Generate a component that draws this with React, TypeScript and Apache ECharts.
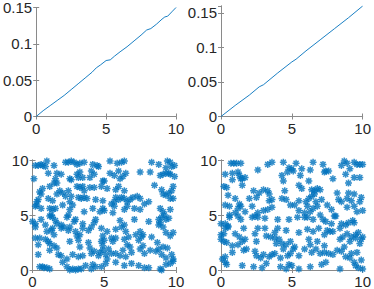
import React, { useEffect, useRef } from "react";
import * as echarts from "echarts";

// Top-left line: cumulative series
const lineAX = [0, 0.5, 1, 1.5, 2, 2.5, 3, 3.5, 4, 4.3, 4.6, 5.0, 5.3, 5.6, 6, 6.5, 7, 7.5, 7.9, 8.2, 8.6, 9.0, 9.2, 9.4, 9.7, 10];
const lineAY = [0, 0.008, 0.015, 0.022, 0.029, 0.037, 0.045, 0.053, 0.061, 0.067, 0.071, 0.077, 0.078, 0.083, 0.089, 0.096, 0.104, 0.112, 0.119, 0.121, 0.127, 0.134, 0.137, 0.138, 0.144, 0.15];

// Top-right line
const lineBX = [0, 1, 2, 2.7, 3.0, 4, 5, 5.3, 6, 7, 8, 9, 10];
const lineBY = [0, 0.016, 0.031, 0.043, 0.046, 0.063, 0.079, 0.083, 0.095, 0.111, 0.127, 0.143, 0.16];

// Bottom-left scatter points [x, y]
const scatterA: number[][] = [
  [0.2,9.5],[0.4,9.5],[0.7,9.5],[0.9,9.4],[1.0,9.9],[1.5,9.5],[2.3,9.8],[2.5,9.8],[2.7,9.9],[2.9,9.8],[3.1,9.6],[3.3,9.7],[3.6,9.8],[4.2,9.6],[4.5,9.5],[4.6,9.4],[5.4,9.9],[5.9,9.7],[6.2,9.8],[6.4,9.9],[8.3,9.8],[8.8,9.6],[9.4,9.9],[9.6,9.8],[9.7,9.4],[9.9,9.5],[9.3,9.3],[0.6,9.6],
  [0.1,8.3],[1.1,8.8],[1.7,8.8],[1.6,8.3],[2.0,8.7],[2.6,8.3],[2.7,8.2],[3.1,8.7],[3.2,8.4],[3.3,8.9],[3.5,8.4],[4.0,8.4],[4.1,9.0],[4.3,8.7],[4.9,8.1],[5.0,8.1],[5.4,8.8],[5.7,8.6],[6.0,9.0],[6.1,8.3],[6.3,8.5],[6.5,8.8],[7.5,8.9],[8.2,8.9],[8.9,8.6],[9.1,8.7],[9.3,8.8],[9.6,8.7],[9.9,8.5],[9.5,8.8],
  [0.5,7.1],[0.7,7.4],[1.2,7.6],[1.5,7.9],[1.7,7.9],[1.9,7.2],[2.1,7.0],[2.5,7.2],[3.1,7.6],[3.3,7.5],[3.5,7.6],[3.6,7.2],[4.0,7.5],[4.3,7.5],[4.8,7.6],[5.2,7.4],[5.8,7.3],[6.0,7.6],[6.4,7.2],[8.5,7.7],[9.0,7.3],[9.5,7.0],[9.7,7.2],[9.8,7.6],
  [0.3,6.2],[0.4,6.4],[0.6,6.9],[1.1,6.5],[1.4,6.3],[1.7,6.9],[2.3,6.7],[2.6,6.2],[2.7,6.7],[3.2,6.6],[3.4,6.5],[3.6,6.6],[3.8,6.5],[4.4,6.4],[4.9,6.3],[5.5,6.0],[5.7,6.2],[5.8,6.6],[6.0,6.4],[6.2,6.6],[6.4,6.5],[6.6,6.2],[6.8,6.4],[7.0,6.6],[7.3,6.7],[7.5,6.5],[7.8,6.0],[8.1,6.2],[9.3,6.8],[9.6,6.5],[9.8,6.5],[9.1,6.9],
  [0.2,5.8],[0.3,5.9],[0.6,5.6],[1.2,5.6],[1.4,5.5],[1.6,5.6],[2.1,5.9],[2.6,5.5],[2.8,5.9],[3.6,5.3],[4.2,5.6],[4.9,5.6],[4.7,5.3],[5.0,5.4],[5.6,5.2],[5.7,5.8],[6.4,5.5],[6.6,5.8],[7.1,5.6],[7.5,5.5],[8.9,5.6],[9.1,5.3],[9.6,5.5],
  [0.0,4.4],[0.2,4.2],[0.6,4.6],[0.9,4.1],[1.2,4.9],[1.3,5.0],[1.4,4.8],[1.6,4.5],[1.7,4.2],[2.0,4.1],[2.4,4.8],[2.5,5.0],[2.9,4.4],[3.0,4.6],[3.5,4.2],[4.3,4.3],[4.4,4.6],[6.1,4.5],[7.1,4.6],[8.1,4.4],[8.8,4.6],[8.9,4.3],[9.0,4.8],[9.2,5.0],[9.3,4.6],[9.5,4.7],[8.8,4.1],[9.1,3.9],
  [0.2,3.9],[1.0,3.5],[1.3,3.6],[1.4,3.8],[1.5,3.2],[2.0,3.8],[2.2,3.9],[2.5,3.6],[2.6,3.9],[3.0,3.5],[3.1,3.1],[3.3,3.2],[3.5,3.8],[3.9,3.6],[4.1,3.9],[4.8,3.8],[4.9,3.1],[5.2,3.5],[5.5,2.9],[5.8,3.7],[6.2,3.9],[6.4,4.1],[6.5,3.5],[6.7,3.0],[7.2,3.2],[7.5,3.5],[7.6,3.0],[7.7,3.2],[8.3,3.0],[9.3,3.4],[9.6,3.1],[9.8,3.4],
  [0.2,2.9],[0.4,2.3],[0.5,2.9],[0.9,2.8],[1.1,2.6],[1.2,2.4],[1.5,2.2],[1.7,2.0],[2.6,2.6],[3.2,2.7],[3.3,2.1],[3.9,2.5],[4.0,2.0],[4.8,2.6],[4.9,2.2],[5.0,2.7],[5.3,1.9],[5.6,2.6],[5.8,2.9],[6.4,2.8],[6.6,2.3],[6.8,2.1],[7.4,2.7],[7.7,2.2],[8.7,2.5],[9.1,2.1],[9.4,2.0],
  [0.4,1.4],[1.2,1.8],[1.8,1.4],[2.0,1.3],[2.4,1.0],[2.8,1.4],[3.2,1.2],[3.5,1.3],[4.1,1.5],[4.3,1.7],[4.6,1.3],[4.7,1.6],[4.9,1.8],[5.1,1.4],[5.2,1.0],[5.5,1.5],[5.8,1.5],[6.1,1.3],[6.3,1.8],[6.5,1.2],[6.9,1.6],[7.5,1.9],[7.8,1.5],[8.2,1.8],[8.6,1.7],[8.8,1.9],[9.0,1.4],[9.3,1.1],[9.7,1.4],[9.8,1.0],
  [0.5,0.3],[0.7,0.3],[0.8,0.2],[1.0,0.2],[1.2,0.1],[2.1,0.7],[2.4,0.3],[2.6,0.0],[2.8,0.1],[3.0,0.0],[3.2,0.1],[3.4,0.1],[3.7,0.4],[4.1,0.1],[4.2,0.5],[4.4,0.3],[4.8,0.3],[5.1,0.6],[5.8,0.7],[6.4,0.4],[6.9,0.6],[7.4,0.4],[7.8,0.2],[8.1,0.2],[8.9,0.1],[9.0,0.0],[9.3,0.5],[9.6,0.6],[9.8,0.8]
];

// Bottom-right scatter points [x, y]
const scatterB: number[][] = [
  [0.3,8.7],[0.7,9.7],[0.9,9.7],[1.1,9.7],[1.4,9.7],[0.8,8.8],[1.2,8.9],[1.4,8.3],[2.6,9.1],[3.3,9.6],[3.6,9.8],[4.4,9.8],[4.8,9.3],[5.0,9.2],[5.1,9.0],[5.3,9.7],[5.7,9.2],[6.3,9.1],[6.5,9.8],[7.2,9.6],[7.3,8.9],[7.4,9.0],[7.6,9.0],[8.5,9.5],[8.7,9.9],[8.9,9.7],[9.1,9.2],[9.4,9.8],[9.6,9.6],[9.8,9.6],[10.0,9.6],
  [0.8,8.2],[1.3,8.6],[1.5,8.3],[1.7,8.4],[4.3,8.6],[4.4,8.1],[4.7,8.9],[5.6,8.6],[6.2,8.1],[7.9,8.3],[8.8,8.7],[9.4,8.4],[9.8,8.4],[9.0,7.9],
  [0.2,7.6],[0.4,7.5],[1.5,7.7],[2.3,7.2],[2.7,7.0],[3.0,7.3],[3.3,7.2],[3.4,6.9],[4.5,7.2],[5.5,7.7],[5.7,7.4],[6.4,7.3],[6.6,7.2],[6.8,7.4],[7.0,7.3],[8.2,7.0],[9.0,7.0],[9.4,6.9],
  [0.5,6.8],[1.0,6.5],[1.3,6.0],[2.0,6.5],[2.5,6.6],[3.4,6.3],[3.6,6.4],[4.3,6.5],[4.6,6.4],[5.5,6.3],[6.0,6.2],[6.2,6.5],[6.4,6.7],[6.6,6.9],[6.7,6.2],[7.1,6.4],[8.3,6.4],[8.5,6.2],[8.9,6.5],[9.2,6.3],[9.8,6.2],[9.9,6.6],[10.0,5.4],
  [0.3,5.9],[0.6,5.8],[0.6,5.0],[1.0,5.2],[1.2,5.6],[1.4,5.8],[1.7,5.3],[2.2,5.8],[2.6,5.2],[3.0,5.4],[3.3,5.5],[3.6,5.7],[4.9,5.9],[5.2,5.9],[5.5,5.4],[5.9,5.2],[6.1,5.8],[6.3,5.3],[6.5,5.6],[6.8,5.8],[7.0,5.0],[7.5,5.9],[7.8,5.5],[8.1,4.9],[8.9,5.7],[9.4,5.8],[9.6,5.3],
  [0.0,4.2],[0.3,4.2],[0.5,4.0],[0.6,4.8],[1.2,4.9],[1.4,4.6],[2.2,4.8],[2.4,4.9],[2.6,4.8],[3.1,4.7],[4.0,4.6],[4.8,4.6],[5.4,4.8],[5.9,4.8],[6.1,4.8],[6.5,4.6],[7.2,4.6],[7.4,4.4],[7.8,4.2],[8.0,4.9],[8.5,4.2],[8.8,4.1],[9.3,4.5],[9.4,4.3],[9.0,4.3],
  [0.0,3.2],[0.2,3.3],[0.3,3.8],[0.5,3.9],[1.0,3.3],[1.3,3.0],[1.6,3.8],[2.4,3.3],[2.6,3.8],[3.1,3.8],[3.2,3.1],[3.5,3.0],[3.8,3.4],[4.0,3.8],[4.6,3.6],[5.5,3.4],[6.1,3.7],[6.5,3.5],[6.9,3.8],[7.3,3.2],[7.5,3.6],[7.7,3.5],[7.9,3.5],[8.4,3.8],[8.6,3.0],[8.9,3.3],[9.2,3.0],[9.5,3.2],[9.7,3.4],[10.0,3.0],
  [0.0,2.8],[0.2,2.6],[0.4,2.5],[0.8,2.2],[1.2,2.3],[1.5,2.6],[1.7,2.8],[2.5,2.6],[3.8,2.9],[3.9,2.4],[4.1,2.8],[4.3,2.4],[4.6,2.3],[4.9,2.6],[5.2,2.1],[6.2,2.8],[6.3,2.3],[6.8,2.6],[7.3,2.2],[8.4,2.8],[8.7,2.1],[9.1,2.6],[9.5,2.9],[9.8,2.4],[9.9,2.8],
  [0.1,1.0],[0.3,1.2],[0.8,1.6],[1.6,1.8],[1.8,1.9],[2.4,1.7],[2.5,1.3],[2.8,1.1],[3.0,1.4],[3.4,1.2],[3.6,1.4],[3.8,1.5],[4.2,1.1],[4.4,1.9],[4.7,1.3],[4.9,1.5],[5.1,1.9],[5.5,1.3],[5.9,1.9],[6.4,1.6],[6.7,1.9],[7.0,1.5],[7.3,1.6],[7.6,1.5],[7.9,1.4],[8.2,1.8],[8.5,1.7],[8.8,1.2],[9.2,1.5],[9.6,1.6],[9.1,1.1],
  [0.3,0.7],[0.4,0.5],[1.5,0.4],[2.3,0.3],[2.9,0.2],[3.2,0.6],[4.2,0.3],[4.6,0.1],[4.8,0.5],[5.0,0.4],[5.5,0.1],[6.3,0.3],[7.1,0.5],[7.4,0.7],[8.4,0.1],[9.4,0.7],[9.5,0.4],[9.7,0.2],[9.9,0.9],[10.0,0.1]
];

const BLUE = "#0072BD";
const AXIS = "#8a8a8a";
const TEXT = "#262626";
const FONT = "Liberation Sans";
const ASTERISK = "path://M0,-1L0,1M-1,0L1,0M-0.72,-0.72L0.72,0.72M-0.72,0.72L0.72,-0.72";

const fmt = (v: number) => String(+v.toFixed(3));

function axesFor(gridIndex: number, yMax: number, yInterval: number, hideMax: boolean) {
  const common = {
    gridIndex,
    axisLine: { show: true, lineStyle: { color: AXIS, width: 1 } },
    axisTick: { show: true, inside: true, length: 3, lineStyle: { color: AXIS } },
    splitLine: { show: false },
  };
  const xs = [
    {
      ...common, type: "value", position: "bottom", min: 0, max: 10, interval: 5,
      axisLabel: { show: true, color: TEXT, fontSize: 15, fontFamily: FONT, margin: 4, formatter: fmt },
    },
    {
      ...common, type: "value", position: "top", min: 0, max: 10, interval: 5,
      axisLabel: { show: false },
    },
  ];
  const ys = [
    {
      ...common, type: "value", position: "left", min: 0, max: yMax, interval: yInterval,
      axisLabel: { show: true, color: TEXT, fontSize: 15, fontFamily: FONT, margin: 4, formatter: fmt, showMaxLabel: hideMax ? false : true },
    },
    {
      ...common, type: "value", position: "right", min: 0, max: yMax, interval: yInterval,
      axisLabel: { show: false },
    },
  ];
  return { xs, ys };
}

export default function App() {
  const ref = useRef<HTMLDivElement>(null);
  useEffect(() => {
    if (!ref.current) return;
    const chart = echarts.init(ref.current, undefined, { renderer: "svg" });
    const grids = [
      { left: 32.5, top: 6, width: 143.5, height: 110.5 },
      { left: 221, top: 6, width: 146, height: 110.5 },
      { left: 32.5, top: 160, width: 143.5, height: 110 },
      { left: 221, top: 160, width: 146, height: 110 },
    ];
    const a0 = axesFor(0, 0.15, 0.05, false);
    const a1 = axesFor(1, 0.16, 0.05, true);
    const a2 = axesFor(2, 10, 5, false);
    const a3 = axesFor(3, 10, 5, false);
    const xAxis = [...a0.xs, ...a1.xs, ...a2.xs, ...a3.xs];
    const yAxis = [...a0.ys, ...a1.ys, ...a2.ys, ...a3.ys];
    const scatterStyle = {
      type: "scatter",
      symbol: ASTERISK,
      symbolSize: 7,
      itemStyle: { color: "rgba(0,0,0,0)", borderColor: BLUE, borderWidth: 1.5 },
      emphasis: { disabled: true },
    };
    chart.setOption({
      animation: false,
      backgroundColor: "#ffffff",
      grid: grids,
      xAxis,
      yAxis,
      series: [
        {
          type: "line", xAxisIndex: 0, yAxisIndex: 0, showSymbol: false,
          data: lineAX.map((x, i) => [x, lineAY[i]]),
          lineStyle: { color: BLUE, width: 0.9 },
        },
        {
          type: "line", xAxisIndex: 2, yAxisIndex: 2, showSymbol: false,
          data: lineBX.map((x, i) => [x, lineBY[i]]),
          lineStyle: { color: BLUE, width: 0.9 },
        },
        { ...scatterStyle, xAxisIndex: 4, yAxisIndex: 4, data: scatterA },
        { ...scatterStyle, xAxisIndex: 6, yAxisIndex: 6, data: scatterB },
      ],
    });
    return () => chart.dispose();
  }, []);
  return (
    <div
      ref={ref}
      style={{ position: "fixed", left: 0, top: 0, width: 374, height: 289 }}
    />
  );
}
